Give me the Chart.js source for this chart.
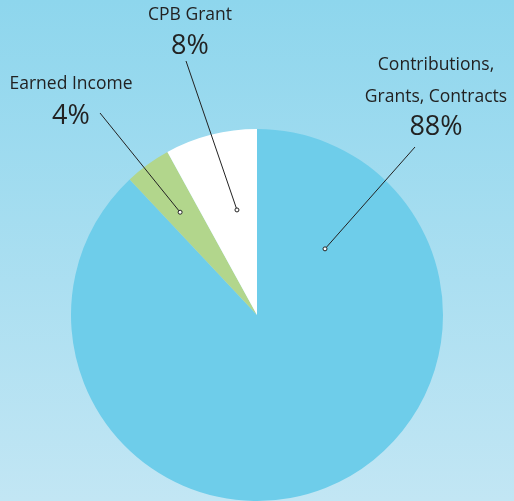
<!DOCTYPE html>
<html>
<head>
<meta charset="utf-8">
<script src="https://cdn.jsdelivr.net/npm/chart.js@4/dist/chart.umd.min.js"></script>
<style>
  html, body { margin: 0; padding: 0; background: #a6dcf0; }
  #wrap { width: 514px; height: 501px; position: relative; }
</style>
</head>
<body>
<div id="wrap"><canvas id="chart_funding"></canvas></div>
<script>
// funding sources, clockwise from 12 o'clock
var categories = ['Contributions, Grants, Contracts', 'Earned Income', 'CPB Grant'];
var shares = [88, 4, 8];
var pctLabels = ['88%', '4%', '8%'];
var sliceColors = ['#6ecdea', '#b2d68c', '#ffffff'];

// callout layout: title lines, text anchor, line start, dot (angle deg from top, fraction of radius)
var callouts = [
    { lines: ['Contributions,', 'Grants, Contracts'], lineY: [65, 97], pctY: 127, x: 436, from: [415, 147], angle: 45.8, frac: 0.51 },
    { lines: ['Earned Income'], lineY: [84], pctY: 116, x: 71, from: [100, 113], angle: -36.8, frac: 0.69 },
    { lines: ['CPB Grant'], lineY: [15], pctY: 46, x: 190, from: [186, 61], angle: -10.8, frac: 0.575 }
];

var chart_funding = new Chart(document.getElementById('chart_funding'), {
    type: 'pie',
    data: {
        labels: categories,
        datasets: [{
            data: shares,
            backgroundColor: sliceColors,
            borderWidth: 0
        }]
    },
    options: {
        animation: false,
        responsive: true,
        maintainAspectRatio: false,
        layout: { padding: { top: 129, bottom: 0, left: 0, right: 0 } },
        plugins: {
            legend: { display: false },
            tooltip: { enabled: false }
        }
    },
    plugins: [{
        id: 'background',
        beforeDraw: (chart) => {
            const ctx = chart.ctx;
            ctx.save();
            const g = ctx.createLinearGradient(0, 0, 0, chart.height);
            g.addColorStop(0, '#8ed6ed');
            g.addColorStop(1, '#c2e6f4');
            ctx.fillStyle = g;
            ctx.fillRect(0, 0, chart.width, chart.height);
            ctx.restore();
        }
    }, {
        id: 'callouts',
        afterDraw: (chart) => {
            const ctx = chart.ctx;
            const arc = chart.getDatasetMeta(0).data[0];
            const cx = arc.x, cy = arc.y, r = arc.outerRadius;
            ctx.save();
            ctx.fillStyle = '#222222';
            ctx.textAlign = 'center';
            ctx.textBaseline = 'middle';
            callouts.forEach((c, i) => {
                ctx.font = '17.5px "Open Sans", sans-serif';
                c.lines.forEach((t, j) => ctx.fillText(t, c.x, c.lineY[j]));
                ctx.font = '27px "Open Sans", sans-serif';
                ctx.fillText(pctLabels[i], c.x, c.pctY);
                const a = (c.angle - 90) * Math.PI / 180;
                const px = cx + Math.cos(a) * r * c.frac;
                const py = cy + Math.sin(a) * r * c.frac;
                ctx.strokeStyle = '#222222';
                ctx.lineWidth = 1;
                ctx.beginPath();
                ctx.moveTo(c.from[0], c.from[1]);
                ctx.lineTo(px, py);
                ctx.stroke();
                ctx.beginPath();
                ctx.arc(px, py, 2, 0, Math.PI * 2);
                ctx.fillStyle = '#ffffff';
                ctx.fill();
                ctx.stroke();
                ctx.fillStyle = '#222222';
            });
            ctx.restore();
        }
    }]
});
</script>
</body>
</html>
